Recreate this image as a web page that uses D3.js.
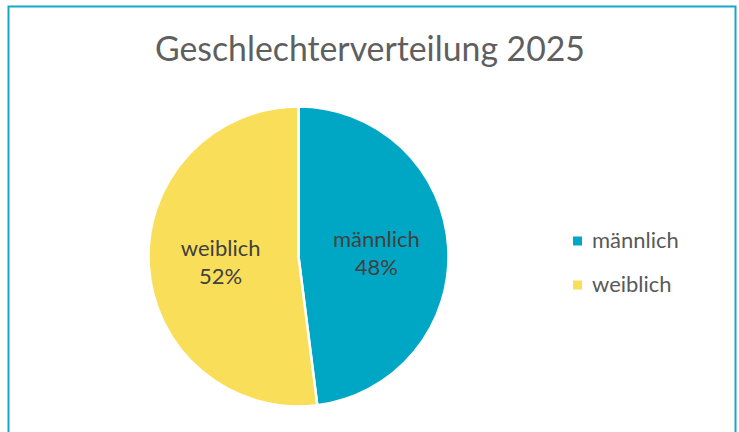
<!DOCTYPE html>
<html>
<head>
<meta charset="utf-8">
<script src="https://cdn.jsdelivr.net/npm/d3@7"></script>
<style>
  html, body { margin: 0; padding: 0; background: #fff; }
  svg { display: block; font-family: Lato, "Open Sans", sans-serif; }
</style>
</head>
<body>
<svg id="chart"></svg>
<script>
const title = 'Geschlechterverteilung 2025';
const categories = ['männlich', 'weiblich'];
const shares = [48, 52];
const colors = ['#00a7c5', '#f9df59'];

const width = 739, height = 432;
const cx = 298.5, cy = 256.5, radius = 150;

const svg = d3.select('#chart').attr('width', width).attr('height', height);

// frame of the chart area (bottom edge runs off the picture)
svg.append('rect')
  .attr('x', 8.5).attr('y', 6.5)
  .attr('width', 727).attr('height', 450)
  .attr('fill', 'none').attr('stroke', '#14a8c8').attr('stroke-width', 2);

// shrink/grow a text to a target width
function fitWidth(sel, target) {
  const node = sel.node();
  const size = parseFloat(sel.attr('font-size'));
  const w = node.getComputedTextLength();
  sel.attr('font-size', (size * target / w).toFixed(2));
}

const t = svg.append('text')
  .attr('x', 370).attr('y', 61)
  .attr('text-anchor', 'middle')
  .attr('font-size', 32).attr('fill', '#5f5f5f')
  .text(title);
fitWidth(t, 430);

const data = categories.map((c, i) => ({ name: c, value: shares[i], color: colors[i] }));

const pie = d3.pie().value(d => d.value).sort(null);
const arc = d3.arc().innerRadius(0).outerRadius(radius);
const labelArc = d3.arc().innerRadius(radius * 0.52).outerRadius(radius * 0.52);

const g = svg.append('g').attr('transform', `translate(${cx},${cy})`);
const arcs = pie(data);

g.selectAll('path.slice')
  .data(arcs)
  .join('path')
  .attr('class', 'slice')
  .attr('d', arc)
  .attr('fill', d => d.data.color)
  .attr('stroke', '#fff').attr('stroke-width', 2.5)
  .attr('stroke-linejoin', 'round');

const labels = g.selectAll('text.lbl')
  .data(arcs)
  .join('text')
  .attr('class', 'lbl')
  .attr('text-anchor', 'middle')
  .attr('fill', '#404040')
  .attr('font-size', 22)
  .attr('transform', d => `translate(${labelArc.centroid(d)})`);

labels.append('tspan').attr('x', 0).attr('y', -5).text(d => d.data.name);
labels.append('tspan').attr('x', 0).attr('y', 23).text(d => d.data.value + '%');

// legend
const legend = svg.append('g').attr('transform', 'translate(573, 0)');
const legendY = d3.scalePoint().domain(categories).range([241, 285]);

const items = legend.selectAll('g')
  .data(data)
  .join('g')
  .attr('transform', d => `translate(0,${legendY(d.name)})`);

items.append('rect')
  .attr('x', 0).attr('y', -4.5)
  .attr('width', 9).attr('height', 9)
  .attr('fill', d => d.color);

items.append('text')
  .attr('x', 19).attr('y', 7)
  .attr('font-size', 22).attr('fill', '#595959')
  .text(d => d.name);
</script>
</body>
</html>
